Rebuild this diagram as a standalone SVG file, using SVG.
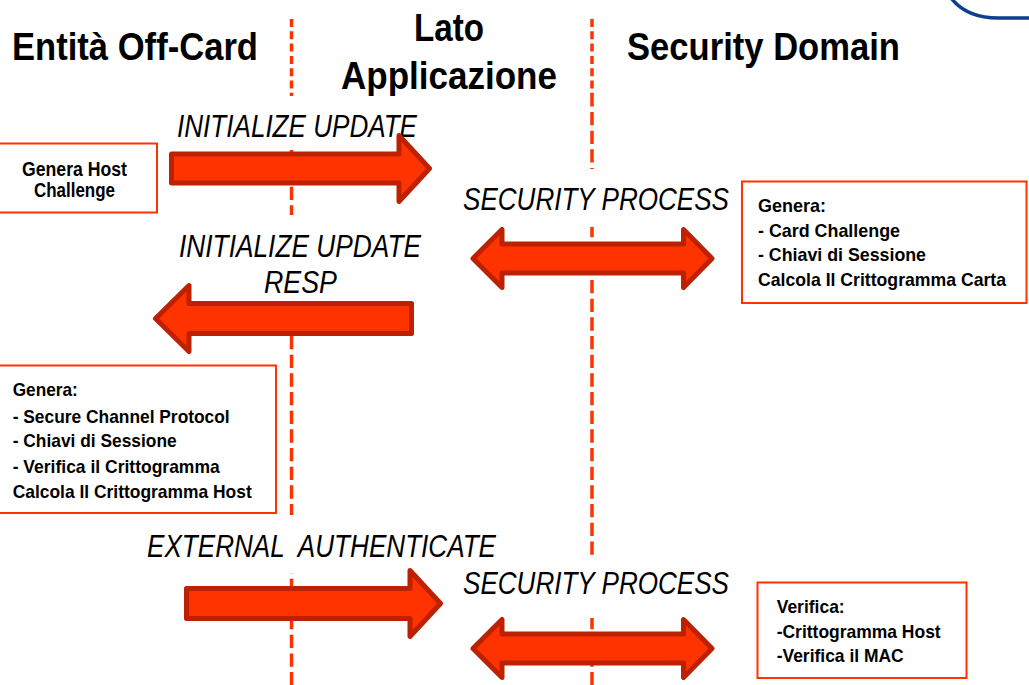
<svg xmlns="http://www.w3.org/2000/svg" width="1029" height="685" viewBox="0 0 1029 685">
  <style>
    .title { font-family: "Liberation Sans", Arial, sans-serif; font-weight: bold; font-size: 39px; fill: #000; }
    .msg { font-family: "Liberation Sans", Arial, sans-serif; font-style: italic; font-size: 31px; fill: #000; }
    .note { font-family: "Liberation Sans", Arial, sans-serif; font-weight: bold; font-size: 18.5px; fill: #000; }
    .note-lg { font-size: 20px; }
    .box { fill: #fff; stroke: #FF3300; stroke-width: 2; }
    .lane { stroke: #FF3300; stroke-width: 3.5; fill: none; }
    .lane-top { stroke-dasharray: 8 4.3; }
    .lane-low { stroke-dasharray: 13.3 5.37; }
    .mask { fill: #fff; }
    .arrow { fill: #FF3300; stroke: #BE2102; stroke-width: 5; stroke-linejoin: round; }
  </style>

  <!-- corner tab -->
  <path d="M951,-2 C962,12 978,18 998,18 L1031,18" fill="none" stroke="#0D3F8E" stroke-width="3.5"/>

  <!-- lane separators -->
  <g id="lanes">
    <line class="lane lane-top" x1="291.5" y1="19" x2="291.5" y2="94"/>
    <line class="lane lane-low" x1="291.5" y1="93.3" x2="291.5" y2="685"/>
    <line class="lane lane-top" x1="592" y1="19" x2="592" y2="94"/>
    <line class="lane lane-low" x1="592" y1="93.3" x2="592" y2="685"/>
  </g>

  <!-- headings -->
  <g id="headings">
    <text class="title" x="12" y="60" textLength="246" lengthAdjust="spacingAndGlyphs">Entità Off-Card</text>
    <text class="title" x="414" y="41" textLength="70" lengthAdjust="spacingAndGlyphs">Lato</text>
    <text class="title" x="341" y="89" textLength="216" lengthAdjust="spacingAndGlyphs">Applicazione</text>
    <text class="title" x="627" y="60" textLength="273" lengthAdjust="spacingAndGlyphs">Security Domain</text>
  </g>

  <!-- message exchange -->
  <g id="connectors">
    <g id="msg-initialize-update">
      <rect class="mask" x="170" y="96" width="255" height="54"/>
      <text class="msg" x="177" y="137" textLength="240" lengthAdjust="spacingAndGlyphs">INITIALIZE UPDATE</text>
      <path class="arrow" d="M171.5,154 H399 V135.5 L429.5,168.5 L399,201.5 V183 H171.5 Z"/>
    </g>
    <g id="msg-security-process-1">
      <rect class="mask" x="455" y="169" width="284" height="58"/>
      <text class="msg" transform="translate(463,210) scale(0.839,1)" x="0" y="0" textLength="317" lengthAdjust="spacingAndGlyphs">SECURITY PROCESS</text>
      <path class="arrow" d="M473,258.5 L502,229.5 V244 H683.5 V229.5 L712,258.5 L683.5,287.5 V273 H502 V287.5 Z"/>
    </g>
    <g id="msg-initialize-update-resp">
      <rect class="mask" x="170" y="215" width="260" height="86"/>
      <text class="msg" x="179" y="257" textLength="242" lengthAdjust="spacingAndGlyphs">INITIALIZE UPDATE</text>
      <text class="msg" x="264" y="293" textLength="73" lengthAdjust="spacingAndGlyphs">RESP</text>
      <path class="arrow" d="M411.5,303.5 H189 V285.5 L155.5,318.5 L189,351.5 V333.5 H411.5 Z"/>
    </g>
    <g id="msg-external-authenticate">
      <rect class="mask" x="140" y="515" width="365" height="58"/>
      <text class="msg" x="147" y="557" textLength="349" lengthAdjust="spacingAndGlyphs" xml:space="preserve">EXTERNAL  AUTHENTICATE</text>
      <path class="arrow" d="M186.5,588.5 H410 V570.5 L440.5,603.5 L410,636.5 V618.5 H186.5 Z"/>
    </g>
    <g id="msg-security-process-2">
      <rect class="mask" x="455" y="558" width="284" height="60"/>
      <text class="msg" transform="translate(463,594) scale(0.839,1)" x="0" y="0" textLength="317" lengthAdjust="spacingAndGlyphs">SECURITY PROCESS</text>
      <path class="arrow" d="M473,648.5 L502,619.5 V634 H683.5 V619.5 L712,648.5 L683.5,677.5 V663 H502 V677.5 Z"/>
    </g>
  </g>

  <!-- processing steps -->
  <g id="host-challenge">
    <rect class="box" x="-2" y="143.5" width="159" height="69"/>
    <text class="note note-lg" x="22" y="176" textLength="105" lengthAdjust="spacingAndGlyphs">Genera Host</text>
    <text class="note note-lg" x="34" y="197" textLength="81" lengthAdjust="spacingAndGlyphs">Challenge</text>
  </g>

  <g id="card-generate">
    <rect class="box" x="742" y="181.5" width="284.5" height="121.5"/>
    <text class="note" x="758" y="212" textLength="68" lengthAdjust="spacingAndGlyphs">Genera:</text>
    <text class="note" x="758" y="237" textLength="142" lengthAdjust="spacingAndGlyphs">- Card Challenge</text>
    <text class="note" x="758" y="261" textLength="168" lengthAdjust="spacingAndGlyphs">- Chiavi di Sessione</text>
    <text class="note" x="758" y="285.5" textLength="248" lengthAdjust="spacingAndGlyphs">Calcola Il Crittogramma Carta</text>
  </g>

  <g id="host-generate">
    <rect class="box" x="-2" y="365.5" width="278" height="147.5"/>
    <text class="note" x="12.7" y="396" textLength="65" lengthAdjust="spacingAndGlyphs">Genera:</text>
    <text class="note" x="12.7" y="422.7" textLength="217" lengthAdjust="spacingAndGlyphs">- Secure Channel Protocol</text>
    <text class="note" x="12.7" y="447.3" textLength="164" lengthAdjust="spacingAndGlyphs">- Chiavi di Sessione</text>
    <text class="note" x="12.7" y="472.7" textLength="207" lengthAdjust="spacingAndGlyphs">- Verifica il Crittogramma</text>
    <text class="note" x="12.7" y="497.7" textLength="239" lengthAdjust="spacingAndGlyphs">Calcola Il Crittogramma Host</text>
  </g>

  <g id="card-verify">
    <rect class="box" x="757.5" y="582.5" width="209" height="95.5"/>
    <text class="note" x="776.7" y="613.3" textLength="68" lengthAdjust="spacingAndGlyphs">Verifica:</text>
    <text class="note" x="776.7" y="638.3" textLength="164" lengthAdjust="spacingAndGlyphs">-Crittogramma Host</text>
    <text class="note" x="776.7" y="662.3" textLength="127" lengthAdjust="spacingAndGlyphs">-Verifica il MAC</text>
  </g>
</svg>
